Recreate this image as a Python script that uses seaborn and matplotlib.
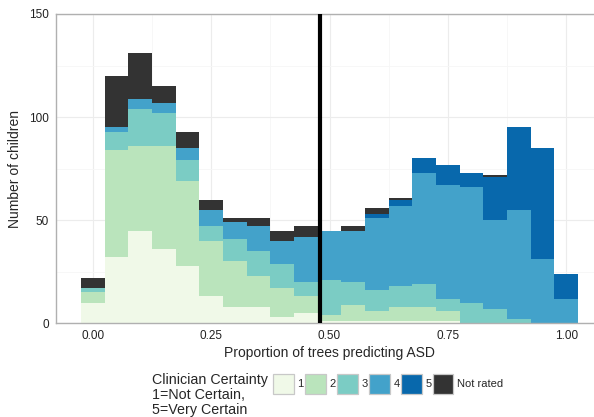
import numpy as np
import pandas as pd
import matplotlib
matplotlib.use("Agg")
import matplotlib.pyplot as plt
from matplotlib.patches import Patch
import seaborn as sns

# ---- data (counts per bin) ----
bin_centers = [0.00, 0.05, 0.10, 0.15, 0.20, 0.25, 0.30, 0.35, 0.40, 0.45, 0.50,
               0.55, 0.60, 0.65, 0.70, 0.75, 0.80, 0.85, 0.90, 0.95, 1.00]
cert_1 = [10, 32, 45, 36, 28, 13, 8, 8, 3, 5, 1, 1, 1, 1, 1, 1, 0, 0, 0, 0, 0]
cert_2 = [5, 52, 41, 50, 41, 27, 22, 15, 14, 8, 3, 8, 5, 7, 7, 5, 0, 0, 0, 0, 0]
cert_3 = [2, 9, 18, 16, 10, 7, 11, 12, 12, 7, 17, 11, 10, 10, 11, 6, 10, 7, 2, 0, 0]
cert_4 = [0, 2, 5, 5, 6, 8, 8, 12, 11, 22, 24, 25, 35, 39, 54, 55, 56, 43, 53, 31, 12]
cert_5 = [0, 0, 0, 0, 0, 0, 0, 0, 0, 0, 0, 0, 2, 3, 7, 10, 7, 21, 40, 54, 12]
not_rated = [5, 25, 22, 8, 8, 5, 2, 4, 5, 5, 0, 2, 3, 1, 0, 0, 0, 1, 0, 0, 0]
levels = ["1", "2", "3", "4", "5", "Not rated"]
colors = ["#f0f9e8", "#bae4bc", "#7bccc4", "#43a2ca", "#0868ac", "#333333"]
threshold = 0.48

series = [cert_1, cert_2, cert_3, cert_4, cert_5, not_rated]
df = pd.concat([pd.DataFrame({"x": bin_centers, "n": s, "cert": lab})
                for s, lab in zip(series, levels)], ignore_index=True)

sns.set_style("white")
plt.rcParams["font.family"] = ["Liberation Sans", "DejaVu Sans"]

W, H = 594, 417
fig = plt.figure(figsize=(W / 100, H / 100), dpi=100)
left, top, bottom = 56, 14, 323.3
x_unit = 473.6
x_lo, x_hi = -0.0775, 1.0775
right = left + (x_hi - x_lo) * x_unit
ax = fig.add_axes([left / W, 1 - bottom / H, (right - left) / W, (bottom - top) / H])

palette = dict(zip(levels, colors))
sns.histplot(data=df, x="x", weights="n", hue="cert", hue_order=levels[::-1],
             binwidth=0.05, binrange=(-0.025, 1.025), multiple="stack",
             element="bars", shrink=1, palette=palette, alpha=1, linewidth=0,
             legend=False, ax=ax)

ax.axvline(threshold, color="black", linewidth=3.0, zorder=5)

ax.set_xlim(x_lo, x_hi)
ax.set_ylim(0, 150)
ax.set_xticks([0, 0.25, 0.5, 0.75, 1.0])
ax.set_xticklabels(["0.00", "0.25", "0.50", "0.75", "1.00"])
ax.set_yticks([0, 50, 100, 150])
ax.set_xticks([0.125, 0.375, 0.625, 0.875], minor=True)
ax.set_yticks([25, 75, 125], minor=True)
ax.grid(True, which="major", color="#ececec", linewidth=0.8)
ax.grid(True, which="minor", color="#f6f6f6", linewidth=0.6)
ax.set_axisbelow(True)
for sp in ax.spines.values():
    sp.set_color("#b0b0b0")
    sp.set_linewidth(1.0)
ax.tick_params(which="major", length=3, width=0.9, color="#444444",
               labelsize=8.5, labelcolor="#222222", pad=2)
ax.tick_params(which="minor", length=0)
ax.set_xlabel("Proportion of trees predicting ASD", fontsize=10, labelpad=3)
ax.set_ylabel("Number of children", fontsize=10, labelpad=5)

fig.text(152 / W, 1 - 373 / H, "Clinician Certainty\n1=Not Certain,\n5=Very Certain",
         fontsize=10.3, va="top", ha="left", linespacing=1.08)
handles = [Patch(facecolor=c, edgecolor="#c8c8c8", linewidth=0.9) for c in colors]
fig.legend(handles, levels, ncol=6, loc="center left",
           bbox_to_anchor=(273 / W, 1 - 384 / H), frameon=False,
           fontsize=8, handlelength=1.85, handleheight=2.3,
           handletextpad=0.35, columnspacing=0.12, borderaxespad=0, borderpad=0)

fig.savefig("out.png", dpi=100)
